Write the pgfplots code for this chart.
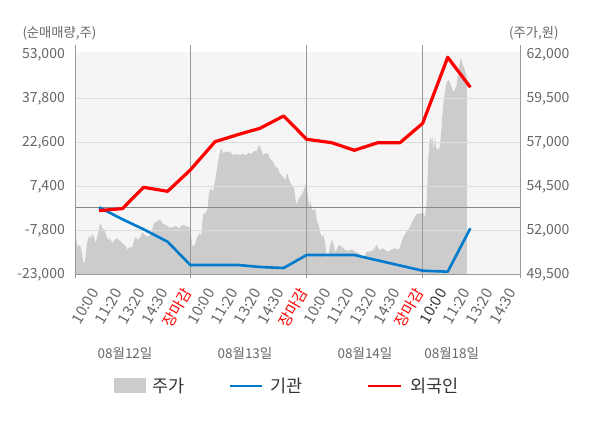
\documentclass[border=0pt]{standalone}
\usepackage{pgfplots}
\pgfplotsset{compat=1.18}
\usepackage{fontspec}
\setmainfont{Noto Sans CJK KR}
\definecolor{bgcol}{RGB}{245,245,245}
\definecolor{areacol}{RGB}{204,204,204}
\definecolor{gridcol}{RGB}{221,221,221}
\definecolor{axiscol}{RGB}{153,153,153}
\definecolor{zerocol}{RGB}{136,136,136}
\definecolor{instblue}{RGB}{0,122,204}
\definecolor{forred}{RGB}{255,0,0}
\definecolor{ticktext}{RGB}{102,102,102}
\definecolor{legtext}{RGB}{51,51,51}
\begin{document}
\begin{tikzpicture}[x=1pt,y=1pt]
\useasboundingbox (0pt,0pt) rectangle (600pt,428pt);
% ---------- price axis (right) ----------
\begin{axis}[
  at={(75.7pt,153.7pt)}, anchor=south west,
  scale only axis, width=444.3pt, height=222.6pt,
  xmin=0.012, xmax=3.842, ymin=49500, ymax=62148,
  scaled x ticks=false, scaled y ticks=false,
  axis background/.style={fill=bgcol},
  axis line style={draw=none}, tick style={draw=none},
  major tick length=0pt,
  xtick=\empty,
  ytick={49500,52000,54500,57000,59500,62000},
  yticklabels={{49,500},{52,000},{54,500},{57,000},{59,500},{62,000}},
  yticklabel pos=right,
  yticklabel style={anchor=west, inner sep=0pt, xshift=6.5pt,
    font=\fontsize{14}{16}\selectfont, text=ticktext},
]
\addplot[fill=areacol, draw=none] coordinates {
(0.012,49500)
(0.012,51733) (0.026,51068) (0.049,51165) (0.060,50881) (0.078,50216) (0.090,50125) (0.101,50784) (0.112,51352) (0.127,51676) (0.141,51545) (0.155,51790) (0.170,51636) (0.184,51261) (0.198,51636) (0.216,52205) (0.228,52432) (0.241,52114) (0.262,52017) (0.279,51636) (0.291,51449) (0.308,51545) (0.328,51261) (0.348,51449) (0.366,51545) (0.385,51449) (0.414,51261) (0.443,51108) (0.457,50881) (0.472,51034) (0.500,51034) (0.515,51449) (0.529,51602) (0.549,51449) (0.572,51636) (0.586,51920) (0.607,51733) (0.629,51636) (0.659,51733) (0.687,52398) (0.710,52489) (0.739,52625) (0.759,52398) (0.788,52301) (0.816,52170) (0.845,52170) (0.874,52244) (0.903,52114) (0.931,52301) (0.960,52244) (0.989,52170) (1.003,52017)
(1.015,51165) (1.032,51068) (1.052,51449) (1.075,51830) (1.095,51733) (1.109,52869) (1.129,52966) (1.147,53153) (1.161,54102) (1.176,54386) (1.196,54193) (1.210,54670) (1.224,55239) (1.239,55898) (1.253,56375) (1.267,56659) (1.282,56375) (1.302,56466) (1.325,56466) (1.353,56409) (1.368,56278) (1.397,56335) (1.426,56278) (1.454,56335) (1.483,56278) (1.503,56409) (1.526,56335) (1.555,56523) (1.572,56466) (1.590,56847) (1.607,56659) (1.627,56278) (1.647,56375) (1.670,56375) (1.684,56091) (1.713,55898) (1.733,55614) (1.756,55523) (1.771,55239) (1.799,55045) (1.819,54858) (1.836,55239) (1.857,54761) (1.877,54574) (1.894,54386) (1.914,53438) (1.928,53722) (1.957,54006) (1.974,54193) (1.997,54670)
(2.009,54193) (2.026,53341) (2.038,53625) (2.049,53153) (2.066,53153) (2.075,53250) (2.090,52585) (2.103,52398) (2.118,51920) (2.133,51636) (2.147,51733) (2.161,51352) (2.176,50409) (2.190,50597) (2.204,51068) (2.219,51449) (2.233,51261) (2.247,50784) (2.262,50881) (2.276,51165) (2.305,51068) (2.334,50881) (2.362,50841) (2.391,50920) (2.420,50784) (2.448,50727) (2.478,50540) (2.497,50466) (2.521,50784) (2.549,50784) (2.578,50881) (2.607,51165) (2.629,50881) (2.659,50977) (2.678,50881) (2.707,50784) (2.736,50920) (2.765,50977) (2.793,50881) (2.814,51165) (2.836,51636) (2.866,51920) (2.894,52205) (2.922,52625) (2.952,52926) (2.980,52966) (3.000,52966)
(3.006,53057) (3.021,52682) (3.034,53341) (3.043,54477) (3.049,55807) (3.058,56750) (3.069,57318) (3.078,57034) (3.086,57318) (3.098,56563) (3.107,57227) (3.121,56659) (3.135,56563) (3.150,56750) (3.164,57699) (3.178,59023) (3.193,59784) (3.207,60352) (3.222,60540) (3.236,60443) (3.250,60159) (3.265,59875) (3.279,59972) (3.293,60159) (3.307,60824) (3.322,61489) (3.331,61773) (3.345,61489) (3.366,61108) (3.379,60824) (3.385,60600)
(3.385,49500)
};
\end{axis}
% ---------- net buying axis (left) ----------
\begin{axis}[
  at={(75.7pt,153.7pt)}, anchor=south west,
  scale only axis, width=444.3pt, height=222.6pt,
  xmin=0.012, xmax=3.842, ymin=-23000, ymax=53900,
  scaled x ticks=false, scaled y ticks=false,
  clip=false,
  axis line style={draw=none}, tick style={draw=none},
  major tick length=0pt,
  ytick={-23000,-7800,7400,22600,37800,53000},
  yticklabels={{-23,000},{-7,800},{7,400},{22,600},{37,800},{53,000}},
  yticklabel style={anchor=east, inner sep=0pt, xshift=-10.7pt,
    font=\fontsize{14}{16}\selectfont, text=ticktext},
  extra y ticks={-7800,7400,22600,37800},
  extra y tick labels={},
  extra y tick style={grid=major, major grid style={draw=gridcol, line width=1pt}},
  xtick={0.2,0.4,0.6,0.8,1,1.2,1.4,1.6,1.8,2,2.2,2.4,2.6,2.8,3,3.2,3.4,3.6,3.8},
  xticklabels={10:00,11:20,13:20,14:30,\textcolor{forred}{장마감},
               10:00,11:20,13:20,14:30,\textcolor{forred}{장마감},
               10:00,11:20,13:20,14:30,\textcolor{forred}{장마감},
               \textcolor{legtext}{10:00},11:20,13:20,14:30},
  xticklabel style={font=\fontsize{15}{17}\selectfont, text=ticktext,
    inner sep=0pt, xshift=1.8pt, yshift=-18.2pt, rotate=60, anchor=base east},
]
% axis frame pieces
\draw[axiscol, line width=1pt] (axis cs:0.012,-23000) -- (axis cs:3.842,-23000);
\draw[axiscol, line width=1pt] ([yshift=-3.3pt]axis cs:0.012,-23000) -- ([yshift=6.7pt]axis cs:0.012,53900);
\draw[axiscol, line width=1pt] ([yshift=-3.3pt]axis cs:1,-23000) -- ([yshift=6.7pt]axis cs:1,53900);
\draw[axiscol, line width=1pt] ([yshift=-3.3pt]axis cs:2,-23000) -- ([yshift=6.7pt]axis cs:2,53900);
\draw[axiscol, line width=1pt] ([yshift=-3.3pt]axis cs:3,-23000) -- ([yshift=6.7pt]axis cs:3,53900);
\draw[axiscol, line width=1pt] ([yshift=-3.3pt]axis cs:3.842,-23000) -- ([yshift=6.7pt]axis cs:3.842,53900);
\draw[zerocol, line width=1pt] (axis cs:0.012,0) -- (axis cs:3.842,0);
% institutions
\addplot[instblue, line width=2.6pt, line join=round] coordinates {
(0.214,150) (0.415,-4000) (0.597,-7450) (0.804,-11740) (1.0,-19790) (1.213,-19790) (1.414,-19790) (1.601,-20480) (1.805,-20820) (2.003,-16330) (2.219,-16330) (2.414,-16330) (2.616,-18200) (2.808,-19960) (3.003,-21760) (3.219,-22100) (3.414,-7110)
};
% foreigners
\addplot[forred, line width=3.2pt, line join=round] coordinates {
(0.214,-1000) (0.415,-300) (0.597,7050) (0.804,5670) (1.0,13030) (1.213,22800) (1.414,25300) (1.601,27440) (1.805,31690) (2.003,23640) (2.219,22460) (2.414,19840) (2.616,22460) (2.808,22460) (3.003,29160) (3.219,51960) (3.414,41600)
};
\end{axis}
% axis titles
\node[anchor=west, inner sep=0pt, text=ticktext, font=\fontsize{13.3}{15}\selectfont] at (22.3pt,394.7pt) {(순매매량,주)};
\node[anchor=west, inner sep=0pt, text=ticktext, font=\fontsize{13.3}{15}\selectfont] at (509pt,394.7pt) {(주가,원)};
% dates
\node[inner sep=0pt, text=ticktext, font=\fontsize{13.5}{15}\selectfont] at (125pt,74.7pt) {08월12일};
\node[inner sep=0pt, text=ticktext, font=\fontsize{13.5}{15}\selectfont] at (245pt,74.7pt) {08월13일};
\node[inner sep=0pt, text=ticktext, font=\fontsize{13.5}{15}\selectfont] at (365pt,74.7pt) {08월14일};
\node[inner sep=0pt, text=ticktext, font=\fontsize{13.5}{15}\selectfont] at (451.7pt,74.7pt) {08월18일};
% legend
\fill[areacol] (114.3pt,34.7pt) rectangle (145.7pt,49.7pt);
\node[anchor=west, inner sep=0pt, text=legtext, font=\fontsize{17.5}{19}\selectfont] at (152.6pt,42.5pt) {주가};
\draw[instblue, line width=2.8pt] (230pt,42pt) -- (261.7pt,42pt);
\node[anchor=west, inner sep=0pt, text=legtext, font=\fontsize{17.5}{19}\selectfont] at (270pt,42.5pt) {기관};
\draw[forred, line width=2.8pt] (368.3pt,42pt) -- (400.7pt,42pt);
\node[anchor=west, inner sep=0pt, text=legtext, font=\fontsize{17.5}{19}\selectfont] at (410pt,42.5pt) {외국인};
\end{tikzpicture}
\end{document}
